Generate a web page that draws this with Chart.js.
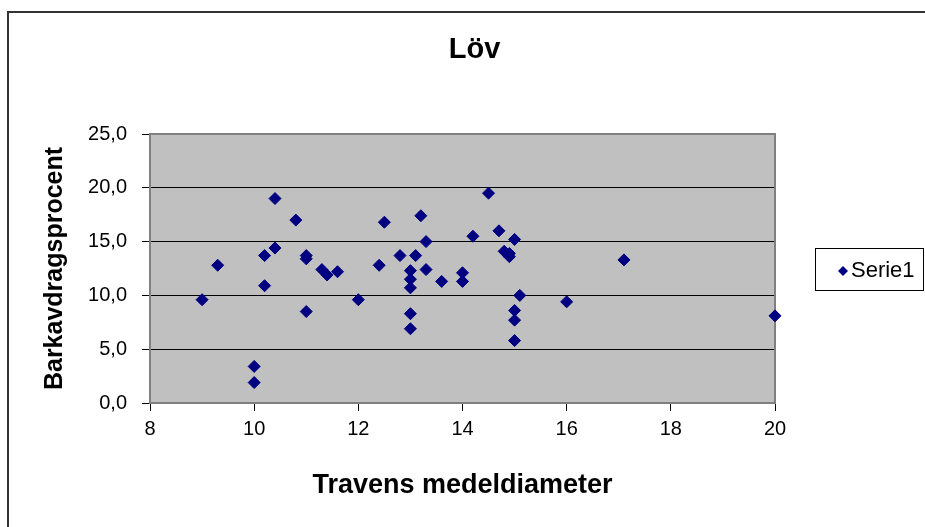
<!DOCTYPE html>
<html>
<head>
<meta charset="utf-8">
<script src="https://cdn.jsdelivr.net/npm/chart.js@4/dist/chart.umd.min.js"></script>
<style>
  html, body { margin: 0; padding: 0; background: #fff; }
  #wrap { width: 925px; height: 527px; }
</style>
</head>
<body>
<div id="wrap"><canvas id="chart" width="925" height="527"></canvas></div>
<script>
const chartTitle = 'Löv';
const seriesLabel = 'Serie1';
const xAxisTitle = 'Travens medeldiameter';
const yAxisTitle = 'Barkavdragsprocent';

// Travens medeldiameter
const diameters = [
  9.0, 9.3, 10.0, 10.0, 10.2, 10.2, 10.4, 10.4, 10.8, 11.0, 11.0, 11.0,
  11.3, 11.4, 11.6, 12.0, 12.4, 12.5, 12.8, 13.0, 13.0, 13.0, 13.0, 13.0,
  13.1, 13.2, 13.3, 13.3, 13.6, 14.0, 14.0, 14.2, 14.5, 14.7, 14.8, 14.9,
  14.9, 15.0, 15.1, 15.0, 15.0, 15.0, 16.0, 17.1, 20.0
];
// Barkavdragsprocent
const percents = [
  9.6, 12.8, 3.4, 1.9, 13.7, 10.9, 19.0, 14.4, 17.0, 13.7, 13.4, 8.5,
  12.4, 11.9, 12.2, 9.6, 12.8, 16.8, 13.7, 12.3, 11.5, 10.7, 8.3, 6.9,
  13.7, 17.4, 15.0, 12.4, 11.3, 12.1, 11.3, 15.5, 19.5, 16.0, 14.1, 13.9,
  13.6, 15.2, 10.0, 8.6, 7.7, 5.8, 9.4, 13.3, 8.1
];

const xTicks = [8, 10, 12, 14, 16, 18, 20];
const yTicks = [0, 5, 10, 15, 20, 25];

const points = diameters.map((d, i) => ({ x: d, y: percents[i] }));

const FONT = '"Liberation Sans", Arial, sans-serif';
const NAVY = '#000080';

function diamond(ctx, x, y, r) {
  ctx.beginPath();
  ctx.moveTo(x - r, y);
  ctx.lineTo(x, y - r);
  ctx.lineTo(x + r, y);
  ctx.lineTo(x, y + r);
  ctx.closePath();
  ctx.fill();
}

const excelLook = {
  id: 'excelLook',
  beforeDraw(chart) {
    const { ctx, chartArea: a } = chart;
    ctx.save();
    // outer frame, only left and top edges are inside the picture
    ctx.strokeStyle = '#333';
    ctx.lineWidth = 2;
    ctx.strokeRect(8, 12, 940, 540);
    ctx.fillStyle = '#c0c0c0';
    ctx.fillRect(a.left, a.top, a.right - a.left, a.bottom - a.top);
    ctx.restore();
  },
  beforeDatasetsDraw(chart) {
    const { ctx, chartArea: a } = chart;
    ctx.save();
    ctx.strokeStyle = '#808080';
    ctx.lineWidth = 2;
    ctx.strokeRect(a.left, a.top, a.right - a.left, a.bottom - a.top);
    ctx.restore();
  },
  afterDraw(chart) {
    // legend box
    const { ctx } = chart;
    const ds = chart.data.datasets[0];
    ctx.save();
    ctx.strokeStyle = '#000';
    ctx.lineWidth = 1;
    ctx.strokeRect(815.5, 248.5, 108, 42);
    ctx.fillStyle = ds.backgroundColor;
    diamond(ctx, 843, 271, 5);
    ctx.fillStyle = '#000';
    ctx.font = '22px ' + FONT;
    ctx.textBaseline = 'middle';
    ctx.textAlign = 'left';
    ctx.fillText(ds.label, 851, 271);
    ctx.restore();
  }
};

new Chart(document.getElementById('chart'), {
  type: 'scatter',
  data: {
    datasets: [{
      label: seriesLabel,
      data: points,
      backgroundColor: NAVY,
      borderColor: NAVY,
      borderWidth: 1,
      pointStyle: 'rectRot',
      pointRadius: 6,
      clip: false,
    }]
  },
  options: {
    responsive: false,
    animation: false,
    devicePixelRatio: 1,
    layout: { padding: { left: 24, top: 0, right: 0, bottom: 0 } },
    plugins: {
      legend: { display: false },
      tooltip: { enabled: false },
      title: {
        display: true,
        text: chartTitle,
        color: '#000',
        font: { family: FONT, size: 29, weight: 'bold', lineHeight: 1.2 },
        padding: { top: 32.6, bottom: 66.6 },
      }
    },
    scales: {
      x: {
        type: 'linear',
        min: 8,
        max: 20,
        afterBuildTicks: s => { s.ticks = xTicks.map(v => ({ value: v })); },
        afterFit: s => { s.height = 124; },
        ticks: {
          color: '#000',
          font: { family: FONT, size: 20 },
          padding: 6,
          maxRotation: 0,
        },
        grid: {
          drawOnChartArea: false,
          drawTicks: true,
          tickLength: 8,
          tickColor: '#000',
        },
        border: { color: '#808080', width: 2 },
        title: {
          display: true,
          text: xAxisTitle,
          color: '#000',
          font: { family: FONT, size: 27, weight: 'bold', lineHeight: 1.2 },
          padding: { top: 0, bottom: 25 },
        }
      },
      y: {
        type: 'linear',
        min: 0,
        max: 25,
        afterBuildTicks: s => { s.ticks = yTicks.map(v => ({ value: v })); },
        afterFit: s => { s.width = 126; },
        ticks: {
          color: '#000',
          font: { family: FONT, size: 20 },
          padding: 15,
          callback: v => v.toFixed(1).replace('.', ','),
        },
        grid: {
          color: '#000',
          lineWidth: 1,
          drawTicks: true,
          tickLength: 8,
          tickColor: '#000',
        },
        border: { color: '#808080', width: 2 },
        title: {
          display: true,
          text: yAxisTitle,
          color: '#000',
          font: { family: FONT, size: 25, weight: 'bold', lineHeight: 1.2 },
          padding: { top: 16, bottom: 0 },
        }
      },
      // empty right-hand axis that only reserves room for the legend
      legendSpace: {
        type: 'linear',
        position: 'right',
        display: true,
        afterFit: s => { s.width = 150; },
        ticks: { display: false },
        grid: { display: false },
        border: { display: false },
      }
    }
  },
  plugins: [excelLook]
});
</script>
</body>
</html>
